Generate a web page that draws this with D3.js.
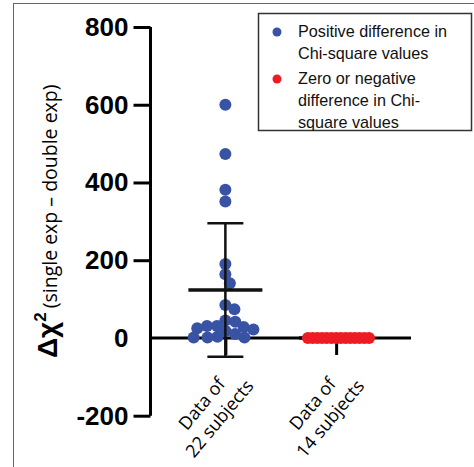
<!DOCTYPE html>
<html>
<head>
<meta charset="utf-8">
<script src="https://cdn.jsdelivr.net/npm/d3@7"></script>
<style>
  body { margin: 0; background: #fff; }
  svg { display: block; }
</style>
</head>
<body>
<div id="chart"></div>
<script>
// values
const groupNames = ["Data of 22 subjects", "Data of 14 subjects"];
const groupLabelLines = [["Data of", "22 subjects"], ["Data of", "14 subjects"]];
const positiveDiffs = [600, 473, 381, 351, 190, 164, 141, 85, 74, 45, 42, 31, 31, 28, 25, 22, 18, 10, 3, 1, 1, 1];
const nonPositiveDiffs = [0, 0, 0, 0, 0, 0, 0, 0, 0, 0, 0, 0, 0, 0];
const yTicks = [-200, 0, 200, 400, 600, 800];
const legendLabels = [
  ["Positive difference in", "Chi-square values"],
  ["Zero or negative", "difference in Chi-", "square values"]
];
const groupColors = ["#3953a4", "#ed1c24"];

const width = 474, height = 467;

const svg = d3.select("#chart").append("svg")
  .attr("width", width)
  .attr("height", height);

// outer frame of the figure panel
svg.append("rect")
  .attr("x", 13.5).attr("y", 3.5)
  .attr("width", 600).attr("height", 600)
  .attr("fill", "none")
  .attr("stroke", "#666")
  .attr("stroke-width", 1);

const y = d3.scaleLinear().domain([-200, 800]).range([415.7, 27]);
const x = d3.scalePoint().domain(groupNames).range([150.5, 411]).padding(0.676);

// y axis
const yAxis = svg.append("g")
  .attr("transform", "translate(150.5,0)")
  .call(d3.axisLeft(y).tickValues(yTicks).tickSize(17).tickSizeOuter(0).tickPadding(5)
    .tickFormat(d => String(d)));
yAxis.select(".domain").attr("stroke", "#000").attr("stroke-width", 3)
  .attr("d", `M0,${y(-200)}V${y(800)}`);
yAxis.selectAll(".tick line").attr("stroke", "#000").attr("stroke-width", 3)
  .filter(d => d === 0).remove();
yAxis.selectAll(".tick text")
  .attr("fill", "#000")
  .style("font-family", "'Liberation Sans', Arial, sans-serif")
  .style("font-weight", "bold")
  .style("font-size", "26px");

// x axis at zero
const xAxis = svg.append("g")
  .attr("transform", `translate(0,${y(0)})`)
  .call(d3.axisBottom(x).tickSize(17).tickSizeOuter(0).tickFormat(""));
xAxis.select(".domain").attr("stroke", "#000").attr("stroke-width", 3)
  .attr("d", `M150.5,0H411`);
xAxis.selectAll(".tick line").attr("stroke", "#000").attr("stroke-width", 3);

// x labels, rotated
groupNames.forEach((g, i) => {
  const t = svg.append("text")
    .attr("transform", `translate(${x(g) - 15},411) rotate(-50)`)
    .attr("text-anchor", "middle")
    .style("font-family", "'Open Sans', sans-serif")
    .style("font-size", "18px")
    .attr("fill", "#000");
  groupLabelLines[i].forEach((line, j) => {
    t.append("tspan").attr("x", 0).attr("y", j === 0 ? -5 : 18).text(line);
  });
});

// y title
const yTitle = svg.append("text")
  .attr("transform", "translate(57,358) rotate(-90)")
  .attr("fill", "#000");
yTitle.append("tspan")
  .style("font-family", "'Liberation Sans', Arial, sans-serif")
  .style("font-weight", "bold")
  .style("font-size", "28px")
  .text("Δχ");
yTitle.append("tspan")
  .attr("dy", -11)
  .style("font-family", "'Liberation Sans', Arial, sans-serif")
  .style("font-weight", "bold")
  .style("font-size", "17px")
  .text("2");
yTitle.append("tspan")
  .attr("dy", 11)
  .attr("dx", 4)
  .style("font-family", "'Open Sans', sans-serif")
  .style("font-size", "19.5px")
  .text("(single exp – double exp)");

// simple deterministic beeswarm: closest free offset to the centre
const swarm = (values, diameter) => {
  const placed = [];
  return values.map(v => {
    const py = y(v);
    const blocked = placed
      .filter(p => Math.abs(p.y - py) < diameter)
      .map(p => {
        const dx = Math.sqrt(diameter * diameter - (p.y - py) ** 2);
        return [p.x - dx, p.x + dx];
      });
    const candidates = [0].concat(blocked.flatMap(b => b))
      .sort((a, b) => Math.abs(a) - Math.abs(b) || b - a);
    const free = candidates.find(c => blocked.every(([a, b]) => c <= a + 1e-6 || c >= b - 1e-6));
    const pt = { value: v, x: free, y: py };
    placed.push(pt);
    return pt;
  });
};

const groupData = [positiveDiffs, nonPositiveDiffs];
const spacing = [10, 4.7];

groupData.forEach((vals, i) => {
  const cx = x(groupNames[i]);
  const mean = d3.mean(vals);
  const sd = d3.deviation(vals) || 0;

  const g = svg.append("g");
  g.selectAll("circle")
    .data(swarm(vals, spacing[i]))
    .join("circle")
    .attr("cx", d => cx + d.x)
    .attr("cy", d => d.y)
    .attr("r", 6)
    .attr("fill", groupColors[i]);

  // mean +/- sd
  const bars = svg.append("g").attr("stroke", "#111");
  bars.append("line")
    .attr("x1", cx).attr("x2", cx)
    .attr("y1", y(mean - sd)).attr("y2", y(mean + sd))
    .attr("stroke-width", 2.5);
  [mean - sd, mean + sd].forEach(v => {
    bars.append("line")
      .attr("x1", cx - 18).attr("x2", cx + 18)
      .attr("y1", y(v)).attr("y2", y(v))
      .attr("stroke-width", 2.5);
  });
  bars.append("line")
    .attr("x1", cx - 37).attr("x2", cx + 37)
    .attr("y1", y(mean)).attr("y2", y(mean))
    .attr("stroke-width", 3.5);
  if (sd === 0) bars.lower();
});

// legend
const legend = svg.append("g");
legend.append("rect")
  .attr("x", 258.5).attr("y", 13.5)
  .attr("width", 213).attr("height", 117)
  .attr("fill", "#fff")
  .attr("stroke", "#333")
  .attr("stroke-width", 1.5);
const legendTop = [37, 84];
legendLabels.forEach((lines, i) => {
  legend.append("circle")
    .attr("cx", 277).attr("cy", legendTop[i] - 5)
    .attr("r", 4.5)
    .attr("fill", groupColors[i]);
  const t = legend.append("text")
    .style("font-family", "'Liberation Sans', Arial, sans-serif")
    .style("font-size", "16.2px")
    .attr("fill", "#111");
  lines.forEach((line, j) => {
    t.append("tspan").attr("x", 298).attr("y", legendTop[i] + j * 21.8).text(line);
  });
});
</script>
</body>
</html>
